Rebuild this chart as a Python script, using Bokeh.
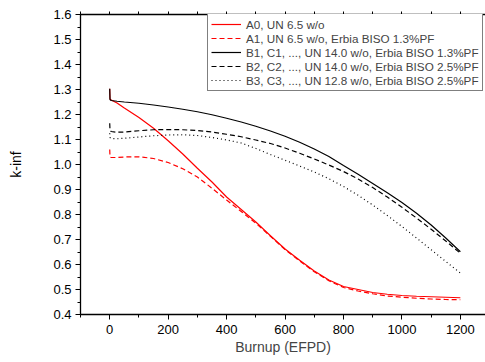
from bokeh.plotting import figure
from bokeh.models import Range1d, LinearAxis, SingleIntervalTicker, Legend, LegendItem, PrintfTickFormatter, Title
from bokeh.embed import file_html
from bokeh.resources import INLINE

burnup = [0, 1, 5, 25, 50, 100, 150, 200, 250, 300, 350, 400, 450, 500, 550, 600,
          650, 700, 750, 800, 850, 900, 950, 1000, 1050, 1100, 1150, 1200]

a0 = [1.303, 1.262, 1.258, 1.246, 1.226, 1.188, 1.145, 1.095, 1.042, 0.985, 0.930, 0.870,
      0.820, 0.770, 0.715, 0.662, 0.617, 0.574, 0.538, 0.512, 0.500, 0.488, 0.481, 0.476,
      0.473, 0.471, 0.469, 0.467]
a1 = [1.060, 1.030, 1.028, 1.028, 1.030, 1.031, 1.024, 1.008, 0.983, 0.950, 0.905, 0.858,
      0.812, 0.765, 0.713, 0.660, 0.614, 0.571, 0.535, 0.508, 0.494, 0.483, 0.474, 0.469,
      0.465, 0.462, 0.460, 0.459]
b1 = [1.303, 1.260, 1.256, 1.253, 1.250, 1.245, 1.238, 1.230, 1.221, 1.211, 1.199, 1.185,
      1.170, 1.153, 1.134, 1.113, 1.089, 1.062, 1.032, 0.996, 0.961, 0.924, 0.887, 0.848,
      0.805, 0.758, 0.706, 0.651]
b2 = [1.165, 1.136, 1.132, 1.129, 1.130, 1.135, 1.139, 1.140, 1.139, 1.136, 1.130, 1.121,
      1.111, 1.098, 1.084, 1.066, 1.045, 1.022, 0.998, 0.972, 0.942, 0.908, 0.870, 0.829,
      0.786, 0.741, 0.694, 0.645]
b3 = [1.125, 1.108, 1.104, 1.103, 1.105, 1.110, 1.115, 1.118, 1.119, 1.116, 1.108, 1.098,
      1.086, 1.064, 1.040, 1.017, 0.994, 0.970, 0.943, 0.912, 0.877, 0.838, 0.796, 0.752,
      0.706, 0.659, 0.612, 0.566]

labels = ["A0, UN 6.5 w/o",
          "A1, UN 6.5 w/o, Erbia BISO 1.3%PF",
          "B1, C1, ..., UN 14.0 w/o, Erbia BISO 1.3%PF",
          "B2, C2, ..., UN 14.0 w/o, Erbia BISO 2.5%PF",
          "B3, C3, ..., UN 12.8 w/o, Erbia BISO 2.5%PF"]

FONT = "Liberation Sans"

p = figure(width=485, height=362, output_backend="svg", toolbar_location=None,
           x_range=Range1d(-100, 1286), y_range=Range1d(0.4, 1.6),
           x_axis_location=None, y_axis_location=None,
           min_border_left=80, min_border_right=0, min_border_top=14, min_border_bottom=48)
p.outline_line_color = None
p.xgrid.visible = False
p.ygrid.visible = False
p.background_fill_color = None
p.border_fill_color = None

def style_axis(ax):
    ax.axis_line_color = "black"
    ax.axis_line_width = 1.3
    ax.major_tick_line_color = "black"
    ax.major_tick_line_width = 1
    ax.minor_tick_line_color = "black"
    ax.minor_tick_line_width = 1
    ax.major_tick_in = 0
    ax.major_tick_out = 5
    ax.minor_tick_in = 0
    ax.minor_tick_out = 3
    ax.major_label_text_font = FONT
    ax.major_label_text_font_size = "13px"
    ax.major_label_text_color = "black"
    ax.axis_label_text_font = FONT
    ax.axis_label_text_font_size = "14px"
    ax.axis_label_text_font_style = "normal"
    ax.axis_label_text_color = "black"

# bottom axis: title as separate Title object (test)
xax = LinearAxis(ticker=SingleIntervalTicker(interval=200, num_minor_ticks=2))
style_axis(xax)
xax.major_label_standoff = 5
p.add_layout(xax, "below")
xt = Title(text="Burnup (EFPD)", align="center", text_font=FONT, text_font_size="14px",
           text_font_style="normal", standoff=0)
p.add_layout(xt, "below")

# left axis with axis label
yax = LinearAxis(ticker=SingleIntervalTicker(interval=0.1, num_minor_ticks=2),
                 formatter=PrintfTickFormatter(format="%.1f"))
yax.axis_label = "k-inf"
style_axis(yax)
yax.major_label_standoff = 4
yax.axis_label_standoff = 26
p.add_layout(yax, "left")

top = LinearAxis(ticker=SingleIntervalTicker(interval=100, num_minor_ticks=0))
style_axis(top)
top.major_tick_out = 3
top.major_label_text_color = None
top.major_label_text_font_size = "1px"
top.major_label_standoff = 0
p.add_layout(top, "above")

RED = "#ff0000"
r0 = p.line(burnup, a0, line_color=RED, line_width=1.2)
r1 = p.line(burnup, a1, line_color=RED, line_width=1.2, line_dash="5 3")
r2 = p.line(burnup, b1, line_color="black", line_width=1.2)
r3 = p.line(burnup, b2, line_color="black", line_width=1.2, line_dash="5 3")
r4 = p.line(burnup, b3, line_color="black", line_width=1.2, line_dash="1 3")

legend = Legend(items=[LegendItem(label=l, renderers=[r]) for l, r in zip(labels, [r0, r1, r2, r3, r4])],
                location=(127, 223))
legend.label_text_font = FONT
legend.label_text_font_size = "11.7px"
legend.glyph_width = 30
legend.glyph_height = 14
legend.label_height = 14
legend.spacing = 0
legend.padding = 3
legend.margin = 0
legend.label_standoff = 5
legend.border_line_color = "black"
legend.border_line_width = 1
legend.background_fill_color = "white"
legend.background_fill_alpha = 1
p.add_layout(legend, "center")

open("out.html", "w").write(file_html(p, INLINE))
